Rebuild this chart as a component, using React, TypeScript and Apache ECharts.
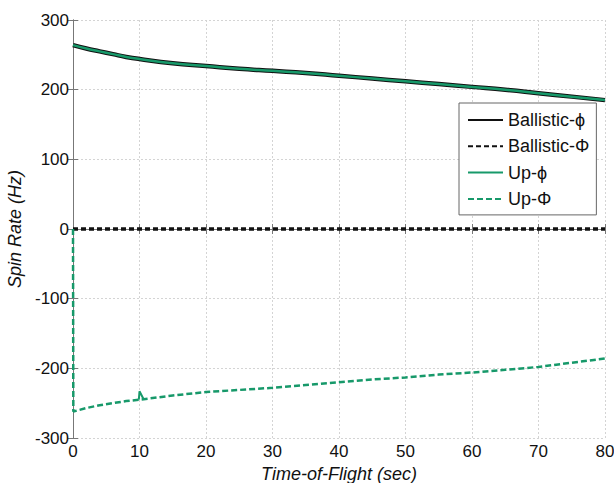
import React, { useEffect, useRef } from "react";
import * as echarts from "echarts";

const upperTimes = [0, 2, 4, 6, 8, 10, 15, 20, 25, 30, 35, 40, 45, 50, 55, 60, 65, 70, 75, 80];
const ballisticPhi = [264, 259, 255, 251, 247, 244, 238, 234, 230, 227, 224, 220, 216, 212, 208, 204, 200, 195, 190, 185];
const upPhi = [264, 259, 255, 251, 247, 244, 238, 234, 230, 227, 224, 220, 216, 212, 208, 204, 200, 195, 190, 185];

const ballisticCapTimes = [0, 80];
const ballisticCapPhi = [0, 0];

const upCapTimes = [0, 0.05, 2, 4, 6, 8, 10, 15, 20, 25, 30, 35, 40, 45, 50, 55, 60, 65, 70, 75, 80];
const upCapPhi = [0, -262, -257, -253, -250, -247, -245, -239, -234, -231, -228, -224, -220, -216, -213, -209, -206, -202, -198, -192, -186];

const spikeTimes = [9.9, 10, 10, 10.6];
const spikeValues = [-245, -245, -233, -244];

const GREEN = "#17996a";

function pairs(t: number[], v: number[]) {
  return t.map((x, i) => [x, v[i]]);
}

export default function App() {
  const ref = useRef<HTMLDivElement>(null);
  useEffect(() => {
    const chart = echarts.init(ref.current!, null, { renderer: "svg" });
    const font = "'Liberation Sans', Arial, sans-serif";
    const axisCommon = {
      axisLine: { show: true, lineStyle: { color: "#777", width: 1 } },
      axisTick: { show: true, inside: true, length: 5, lineStyle: { color: "#777" } },
    };
    chart.setOption({
      animation: false,
      backgroundColor: "#fff",
      textStyle: { fontFamily: font },
      grid: { left: 73, right: 9, top: 20, bottom: 45, containLabel: false, outerBoundsMode: "none" },
      legend: {
        orient: "vertical",
        left: 459,
        top: 103,
        padding: [8, 7, 7, 8],
        itemGap: 8.3,
        itemWidth: 35,
        itemHeight: 14,
        itemStyle: { opacity: 0 },
        backgroundColor: "#fff",
        borderColor: "#666",
        borderWidth: 1,
        textStyle: { fontFamily: font, fontSize: 18, color: "#111" },
        data: ["Ballistic-ϕ", "Ballistic-Φ", "Up-ϕ", "Up-Φ"],
      },
      xAxis: [
        {
          type: "value",
          min: 0,
          max: 80,
          interval: 10,
          name: "Time-of-Flight (sec)",
          nameLocation: "middle",
          nameGap: 24,
          nameTextStyle: { fontFamily: font, fontSize: 18, fontStyle: "italic", color: "#111" },
          axisLabel: { fontFamily: font, fontSize: 17, color: "#111", margin: 5 },
          splitLine: { show: true, lineStyle: { color: "#d4d4d4", type: [2, 2] } },
          ...axisCommon,
        },
        {
          type: "value",
          position: "top",
          min: 0,
          max: 80,
          interval: 10,
          axisLabel: { show: false },
          splitLine: { show: false },
          ...axisCommon,
        },
      ],
      yAxis: [
        {
          type: "value",
          min: -300,
          max: 300,
          interval: 100,
          name: "Spin Rate (Hz)",
          nameLocation: "middle",
          nameGap: 48,
          nameTextStyle: { fontFamily: font, fontSize: 18, fontStyle: "italic", color: "#111" },
          axisLabel: { fontFamily: font, fontSize: 17, color: "#111", margin: 4 },
          splitLine: { show: true, lineStyle: { color: "#d4d4d4", type: [2, 2] } },
          ...axisCommon,
        },
        {
          type: "value",
          position: "right",
          min: -300,
          max: 300,
          interval: 100,
          axisLabel: { show: false },
          splitLine: { show: false },
          ...axisCommon,
        },
      ],
      series: [
        {
          name: "Ballistic-ϕ",
          type: "line",
          symbol: "none",
          smooth: true,
          data: pairs(upperTimes, ballisticPhi),
          lineStyle: { color: "#111", width: 4.5 },
          itemStyle: { color: "#111" },
          z: 2,
        },
        {
          name: "Ballistic-Φ",
          type: "line",
          symbol: "none",
          data: pairs(ballisticCapTimes, ballisticCapPhi),
          lineStyle: { color: "#111", width: 3.5, type: [5, 3] },
          itemStyle: { color: "#111" },
          z: 3,
        },
        {
          name: "Up-ϕ",
          type: "line",
          symbol: "none",
          smooth: true,
          data: pairs(upperTimes, upPhi),
          lineStyle: { color: GREEN, width: 2.5 },
          itemStyle: { color: GREEN },
          z: 4,
        },
        {
          name: "Up-Φ",
          type: "line",
          symbol: "none",
          data: pairs(upCapTimes, upCapPhi),
          lineStyle: { color: GREEN, width: 2.5, type: [6, 3] },
          itemStyle: { color: GREEN },
          z: 5,
        },
        {
          name: "Up-Φ",
          type: "line",
          symbol: "none",
          data: pairs(spikeTimes, spikeValues),
          lineStyle: { color: GREEN, width: 2 },
          itemStyle: { color: GREEN },
          z: 5,
        },
      ],
    });
    return () => chart.dispose();
  }, []);
  return <div ref={ref} style={{ width: 614, height: 483, position: "absolute", left: 0, top: 0 }} />;
}
